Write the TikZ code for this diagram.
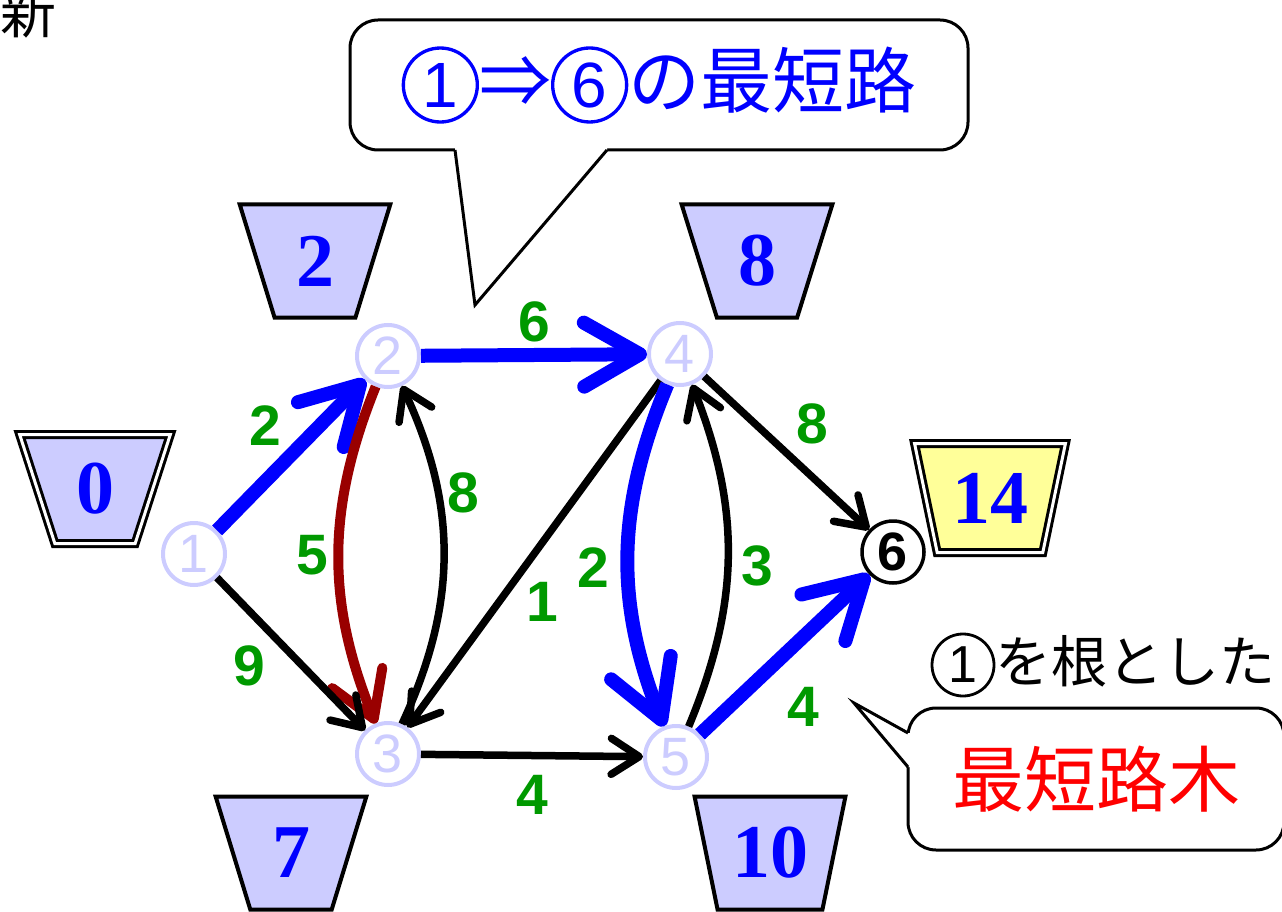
\documentclass[tikz,border=0pt]{standalone}
\usepackage{fontspec}
\usetikzlibrary{positioning, arrows.meta, shapes.geometric, calc}
\newfontfamily\jpfont{Noto Sans CJK JP}
\newfontfamily\lblfont{Liberation Sans}
\newfontfamily\numfont{Liberation Serif}
\definecolor{lav}{HTML}{CCCCFF}
\definecolor{pathblue}{HTML}{0000FF}
\definecolor{treered}{HTML}{990000}
\definecolor{wgreen}{HTML}{009900}
\definecolor{goalyellow}{HTML}{FFFF99}
% circled digit inside a text line: colour, circle size, digit size, digit
\newcommand{\cnum}[4]{\tikz[baseline=(c.base), x=1cm, y=1cm]
  \node[circle, draw=#1, text=#1, line width=0.045*#2, minimum size=#2, inner sep=0pt,
        font=\lblfont\fontsize{#3}{#3}\selectfont] (c) {#4};}

\begin{document}
\begin{tikzpicture}[x=1pt, y=-1pt,
  vtx/.style={circle, draw=lav, line width=4pt, minimum size=62pt, inner sep=0pt,
              text=lav, font=\lblfont\fontsize{54}{54}\selectfont},
  goal/.style={vtx, draw=black, line width=3.5pt, text=black,
               font=\lblfont\bfseries\fontsize{54}{54}\selectfont},
  dist/.style={trapezium, trapezium stretches=true, shape border rotate=180,
               trapezium left angle=72, trapezium right angle=72, draw=black,
               line width=4pt, fill=lav, minimum width=151pt, minimum height=113pt,
               inner sep=0pt, text=pathblue, font=\numfont\bfseries\fontsize{76}{76}\selectfont},
  fixed/.style={dist, line width=3pt, double=white, double distance=3pt,
                minimum height=109pt},
  wt/.style={text=wgreen, inner sep=0pt, font=\lblfont\bfseries\fontsize{57}{57}\selectfont},
  blk/.style={-{Straight Barb[length=28pt, width=36pt, round]}, line width=7.5pt, black},
  sp/.style={-{Straight Barb[length=56pt, width=64pt, round]}, line width=14pt, pathblue},
  tre/.style={-{Straight Barb[length=44pt, width=54pt, round]}, line width=10pt, treered},
  callout/.style={draw=black, line width=3pt, fill=white, rounded corners=28pt, inner sep=0pt},
  tail/.style={draw=black, line width=3pt, line join=miter},
]
\useasboundingbox (0,0) rectangle (1282,912);

% distance labels
\node[fixed] (d1) at (95,489) {0};
\node[dist] (d2) at (315,261) {2};
\node[dist] (d3) at (291,853) {7};
\node[dist] (d4) at (757,261) {8};
\node[dist] (d5) at (770,853) {10};
\node[fixed, fill=goalyellow] (d6) at (990,498) {14};

% callouts
\node[callout, minimum width=618pt, minimum height=130pt, text=pathblue,
      font=\jpfont\fontsize{72}{72}\selectfont] (c1) at (659,85)
  {\cnum{pathblue}{74pt}{64pt}{1}⇒\cnum{pathblue}{74pt}{64pt}{6}の最短路};
\coordinate (c1l) at (455,150);
\coordinate (c1r) at (607,150);
\coordinate (c1tip) at (475,305);
\fill[white] ($(c1l)+(0,-3)$) -- (c1l) -- (c1tip) -- (c1r) -- ($(c1r)+(0,-3)$) -- cycle;
\draw[tail] (c1l) -- (c1tip) -- (c1r);

\node[font=\jpfont\fontsize{56}{56}\selectfont] (root) at (1103,665)
  {\cnum{black}{62pt}{52pt}{1}を根とした};
\node[callout, minimum width=376pt, minimum height=142pt, text=red,
      font=\jpfont\fontsize{72}{72}\selectfont] (c2) at (1096,779) {最短路木};
\coordinate (c2u) at (908,733);
\coordinate (c2d) at (908,767);
\coordinate (c2tip) at (854,703);
\fill[white] ($(c2u)+(3,0)$) -- (c2u) -- (c2tip) -- (c2d) -- ($(c2d)+(3,0)$) -- cycle;
\draw[tail] (c2u) -- (c2tip) -- (c2d);

\node[inner sep=0pt, font=\jpfont\fontsize{56}{56}\selectfont] (shin) at (29,12) {新};

% vertices
\node[vtx] (n1) at (194,554) {1};
\node[vtx] (n2) at (388,356) {2};
\node[vtx] (n3) at (388,754) {3};
\node[vtx] (n4) at (680,354) {4};
\node[vtx] (n5) at (676,757) {5};
\node[goal] (n6) at (893,552) {6};

% edges
\draw[sp] (n1) -- node[wt, above left=4pt] {2} (n2);
\draw[sp] (n2) -- node[wt, above=6pt] {6} (n4);
\draw[blk] (n3) to[bend right=25] node[wt, pos=0.69, right=6pt] {8} (n2);
\draw[tre] (n2) to[bend right=22] node[wt, left=6pt] {5} (n3);
\draw[blk] (n1) -- node[wt, pos=0.58, left=34pt] {9} (n3);
\draw[blk] (n4) -- node[wt, pos=0.57, below right=0pt and 6pt] {1} (n3);
\draw[blk] (n3) -- node[wt, below=16pt] {4} (n5);
\draw[sp] (n4) to[bend right=22] node[wt, pos=0.54, left=12pt] {2} (n5);
\draw[blk] (n5) to[bend right=22] node[wt, pos=0.47, right=10pt] {3} (n4);
\draw[blk] (n4) -- node[wt, above right=8pt] {8} (n6);
\draw[sp] (n5) -- node[wt, pos=0.41, below right=16pt] {4} (n6);

\end{tikzpicture}
\end{document}
